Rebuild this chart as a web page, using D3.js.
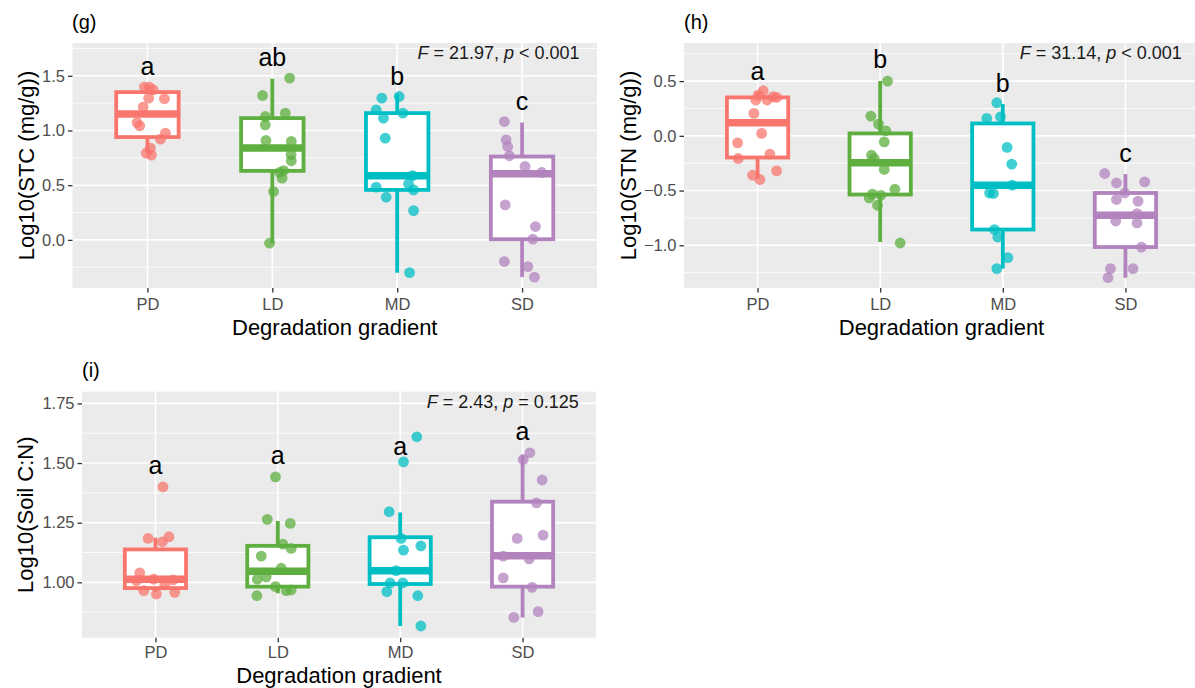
<!DOCTYPE html>
<html><head><meta charset="utf-8">
<script src="https://cdn.jsdelivr.net/npm/d3@7"></script>
<style>
body{margin:0;background:#fff;overflow:hidden;}
svg{display:block;}
text{font-family:"Liberation Sans",Arial,Helvetica,sans-serif;}
</style>
</head><body>
<svg id="chart" width="1195" height="688"></svg>
<script>
// ---------- DATA ----------
const categories = ["PD", "LD", "MD", "SD"];
const groupColors = ["#F8766D", "#5EAF3F", "#00BFC4", "#B383BE"];

// y-axis ticks
const ticksG = [0.0, 0.5, 1.0, 1.5];
const minorG = [-0.25, 0.25, 0.75, 1.25, 1.75];
const ticksH = [-1.0, -0.5, 0.0, 0.5];
const minorH = [-1.25, -0.75, -0.25, 0.25, 0.75];
const ticksI = [1.00, 1.25, 1.50, 1.75];
const minorI = [0.875, 1.125, 1.375, 1.625];

// boxes: [lower whisker, Q1, median, Q3, upper whisker]
const stcBox = [[0.80, 0.94, 1.15, 1.351, 1.40], [-0.03, 0.631, 0.839, 1.113, 1.473], [-0.30, 0.457, 0.586, 1.159, 1.336], [-0.341, 0.006, 0.604, 0.762, 1.073]];
const stnBox = [[-0.39, -0.198, 0.119, 0.351, 0.40], [-0.97, -0.536, -0.247, 0.022, 0.50], [-1.213, -0.856, -0.451, 0.113, 0.29], [-1.296, -1.016, -0.726, -0.522, -0.35]];
const cnBox = [[0.96, 0.976, 1.013, 1.138, 1.187], [0.954, 0.982, 1.047, 1.153, 1.257], [0.817, 0.993, 1.049, 1.189, 1.293], [0.853, 0.982, 1.111, 1.338, 1.533]];

// jittered points: [jitter offset (category steps), value]
const stcPD = [[-0.024, 1.397], [0.016, 1.397], [0.046, 1.372], [0.010, 1.296], [0.136, 1.29], [-0.034, 1.214], [-0.083, 1.073], [-0.062, 1.043], [0.144, 0.976], [0.104, 0.921], [0.024, 0.839], [-0.010, 0.793], [0.032, 0.775]];
const stcLD = [[0.139, 1.479], [-0.078, 1.32], [-0.056, 1.128], [0.104, 1.159], [-0.056, 1.052], [-0.051, 0.909], [0.152, 0.90], [0.150, 0.778], [0.152, 0.723], [0.091, 0.634], [0.059, 0.616], [0.078, 0.564], [0.010, 0.442], [-0.022, -0.03]];
const stcMD = [[-0.123, 1.296], [0.016, 1.311], [-0.168, 1.189], [-0.110, 1.113], [0.046, 1.159], [-0.096, 0.930], [0.123, 0.588], [-0.168, 0.482], [0.091, 0.512], [0.131, 0.457], [-0.088, 0.39], [0.131, 0.268], [0.099, -0.299]];
const stcSD = [[-0.142, 1.082], [-0.128, 0.915], [-0.115, 0.854], [-0.102, 0.769], [0.024, 0.671], [0.158, 0.616], [-0.135, 0.32], [0.107, 0.122], [0.086, 0.006], [-0.142, -0.198], [0.046, -0.244], [0.099, -0.341]];

const stnPD = [[0.046, 0.412], [0.005, 0.372], [0.127, 0.357], [0.078, 0.327], [0.155, 0.351], [-0.014, 0.327], [-0.030, 0.205], [0.033, 0.022], [-0.163, -0.064], [-0.158, -0.207], [0.100, -0.167], [0.155, -0.32], [-0.041, -0.36], [0.019, -0.399]];
const stnLD = [[0.060, 0.50], [-0.076, 0.18], [-0.014, 0.107], [0.046, 0.046], [0.033, -0.055], [-0.071, -0.177], [-0.049, -0.207], [0.033, -0.307], [0.120, -0.488], [0.006, -0.543], [-0.063, -0.533], [-0.090, -0.567], [-0.022, -0.634], [0.163, -0.979]];
const stnMD = [[-0.049, 0.302], [-0.131, 0.159], [-0.019, 0.174], [0.035, -0.106], [0.073, -0.259], [0.077, -0.451], [-0.108, -0.522], [-0.076, -0.527], [-0.068, -0.856], [-0.041, -0.924], [0.041, -1.113], [-0.049, -1.213]];
const stnSD = [[-0.169, -0.344], [-0.073, -0.43], [0.157, -0.421], [-0.006, -0.522], [-0.073, -0.582], [0.103, -0.597], [0.095, -0.71], [-0.079, -0.778], [0.095, -0.796], [0.131, -1.016], [-0.122, -1.213], [0.062, -1.213], [-0.142, -1.296]];

const cnPD = [[0.062, 1.40], [-0.060, 1.184], [0.057, 1.17], [0.111, 1.191], [-0.128, 1.04], [-0.014, 1.013], [0.144, 1.01], [-0.095, 0.965], [0.008, 0.951], [0.158, 0.958], [-0.155, 1.007], [0.076, 0.989]];
const cnLD = [[-0.019, 1.442], [-0.086, 1.264], [0.102, 1.247], [-0.135, 1.11], [0.041, 1.16], [0.109, 1.142], [0.028, 1.059], [-0.168, 1.013], [-0.019, 0.982], [0.069, 0.965], [-0.171, 0.944], [-0.095, 1.023], [0.109, 0.968]];
const cnMD = [[0.136, 1.61], [0.027, 1.505], [-0.090, 1.296], [0.008, 1.184], [0.027, 1.135], [0.169, 1.153], [-0.033, 1.049], [-0.082, 0.998], [0.022, 0.998], [-0.109, 0.961], [0.144, 0.944], [0.169, 0.817]];
const cnSD = [[0.060, 1.543], [0.005, 1.515], [0.160, 1.429], [0.114, 1.333], [-0.044, 1.184], [0.168, 1.198], [-0.158, 1.11], [0.054, 1.098], [-0.158, 1.019], [0.078, 0.979], [0.127, 0.877], [-0.071, 0.853]];

// significance letters and their heights
const lettersG = ["a", "ab", "b", "c"];
const letterYG = [1.51, 1.586, 1.418, 1.189];
const lettersH = ["a", "b", "b", "c"];
const letterYH = [0.51, 0.617, 0.403, -0.243];
const lettersI = ["a", "a", "a", "a"];
const letterYI = [1.452, 1.496, 1.533, 1.596];

// ANOVA annotations
const statG = {F: "21.97", op: "<", p: "0.001", y: 1.653};
const statH = {F: "31.14", op: "<", p: "0.001", y: 0.699};
const statI = {F: "2.43", op: "=", p: "0.125", y: 1.731};

// ---------- DRAW ----------
const svg = d3.select("#chart");
const font = '"Liberation Sans",Arial,Helvetica,sans-serif';

function drawPanel(c) {
  const g = svg.append("g");
  const x = d3.scalePoint().domain(categories).range([c.x0, c.x1]).padding(0.6);
  const y = d3.scaleLinear().domain(c.domain).range([c.y1, c.y0]);
  const step = x.step();

  g.append("rect").attr("x", c.x0).attr("y", c.y0)
    .attr("width", c.x1 - c.x0).attr("height", c.y1 - c.y0).attr("fill", "#EBEBEB");

  g.selectAll(".minor").data(c.minor).join("line")
    .attr("x1", c.x0).attr("x2", c.x1).attr("y1", d => y(d)).attr("y2", d => y(d))
    .attr("stroke", "#fff").attr("stroke-width", 0.8);
  g.selectAll(".major").data(c.ticks).join("line")
    .attr("x1", c.x0).attr("x2", c.x1).attr("y1", d => y(d)).attr("y2", d => y(d))
    .attr("stroke", "#fff").attr("stroke-width", 1.6);
  g.selectAll(".vgrid").data(categories).join("line")
    .attr("x1", d => x(d)).attr("x2", d => x(d)).attr("y1", c.y0).attr("y2", c.y1)
    .attr("stroke", "#fff").attr("stroke-width", 1.6);

  const bw = step * 0.5;
  categories.forEach((cat, i) => {
    const b = c.boxes[i], col = groupColors[i], cx = x(cat);
    g.append("line").attr("x1", cx).attr("x2", cx).attr("y1", y(b[0])).attr("y2", y(b[4]))
      .attr("stroke", col).attr("stroke-width", 3.8);
    g.append("rect").attr("x", cx - bw / 2).attr("y", y(b[3])).attr("width", bw)
      .attr("height", y(b[1]) - y(b[3])).attr("fill", "#fff").attr("stroke", col).attr("stroke-width", 3.8);
    g.append("line").attr("x1", cx - bw / 2).attr("x2", cx + bw / 2).attr("y1", y(b[2])).attr("y2", y(b[2]))
      .attr("stroke", col).attr("stroke-width", 7.5);
  });
  categories.forEach((cat, i) => {
    g.selectAll(null).data(c.points[i]).join("circle")
      .attr("cx", d => x(cat) + d[0] * step).attr("cy", d => y(d[1])).attr("r", 5.4)
      .attr("fill", groupColors[i]).attr("fill-opacity", 0.75);
  });
  categories.forEach((cat, i) => {
    g.append("text").attr("x", x(cat)).attr("y", y(c.letterY[i])).attr("text-anchor", "middle")
      .attr("font-size", 25).attr("fill", "#000").text(c.letters[i]);
  });
  // stat annotation
  const st = g.append("text").attr("x", x("SD") + 0.46 * step).attr("y", y(c.stat.y))
    .attr("text-anchor", "end").attr("font-size", 18).attr("fill", "#1A1A1A");
  st.append("tspan").attr("font-style", "italic").text("F");
  st.append("tspan").text(" = " + c.stat.F + ", ");
  st.append("tspan").attr("font-style", "italic").text("p");
  st.append("tspan").text(" " + c.stat.op + " " + c.stat.p);

  // y axis
  const ya = g.append("g").attr("transform", `translate(${c.x0},0)`)
    .call(d3.axisLeft(y).tickValues(c.ticks).tickFormat(c.fmt).tickSize(4.5).tickPadding(3));
  ya.select(".domain").remove();
  ya.selectAll("line").attr("stroke", "#333").attr("stroke-width", 1.3);
  ya.selectAll("text").attr("font-size", 16.5).attr("fill", "#4D4D4D").attr("font-family", font);

  // x axis
  const xa = g.append("g").attr("transform", `translate(0,${c.y1})`)
    .call(d3.axisBottom(x).tickSize(4.5).tickPadding(c.xPad));
  xa.select(".domain").remove();
  xa.selectAll("line").attr("stroke", "#333").attr("stroke-width", 1.3);
  xa.selectAll("text").attr("font-size", 16.5).attr("fill", "#4D4D4D").attr("font-family", font);

  // titles
  g.append("text").attr("x", (c.x0 + c.x1) / 2).attr("y", c.xTitleY)
    .attr("text-anchor", "middle").attr("font-size", 22).attr("fill", "#000").text("Degradation gradient");
  g.append("text").attr("transform", `translate(${c.yTitleX},${(c.y0 + c.y1) / 2}) rotate(-90)`)
    .attr("text-anchor", "middle").attr("font-size", 22).attr("fill", "#000").text(c.yTitle);
  g.append("text").attr("x", c.tagX).attr("y", c.tagY).attr("font-size", 20).attr("fill", "#000").text(c.tag);
}

const fmt1 = d => d3.format(".1f")(d).replace("-", "\u2212");
const fmt2 = d => d3.format(".2f")(d);

drawPanel({tag: "(g)", tagX: 72, tagY: 29, x0: 72.5, x1: 597, y0: 43, y1: 288, domain: [-0.44, 1.80],
  ticks: ticksG, minor: minorG, fmt: fmt1, boxes: stcBox, points: [stcPD, stcLD, stcMD, stcSD],
  letters: lettersG, letterY: letterYG, stat: statG, yTitle: "Log10(STC (mg/g))", yTitleX: 34, xTitleY: 335, xPad: 6});
drawPanel({tag: "(h)", tagX: 684, tagY: 29, x0: 684, x1: 1199, y0: 43, y1: 288, domain: [-1.39, 0.848],
  ticks: ticksH, minor: minorH, fmt: fmt1, boxes: stnBox, points: [stnPD, stnLD, stnMD, stnSD],
  letters: lettersH, letterY: letterYH, stat: statH, yTitle: "Log10(STN (mg/g))", yTitleX: 636, xTitleY: 335, xPad: 6});
drawPanel({tag: "(i)", tagX: 82, tagY: 377, x0: 82, x1: 596, y0: 391.7, y1: 637.7, domain: [0.768, 1.799],
  ticks: ticksI, minor: minorI, fmt: fmt2, boxes: cnBox, points: [cnPD, cnLD, cnMD, cnSD],
  letters: lettersI, letterY: letterYI, stat: statI, yTitle: "Log10(Soil C:N)", yTitleX: 33, xTitleY: 683, xPad: 4});
</script>
</body></html>
